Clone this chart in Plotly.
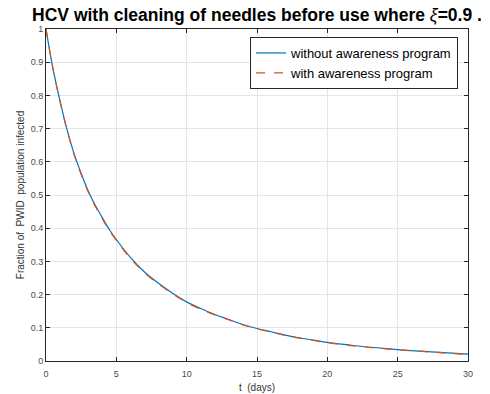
import plotly.graph_objects as go

t_days = [0, 0.5, 1, 1.5, 2, 2.5, 3, 3.5, 4, 4.5, 5, 6, 7, 8, 9, 10, 11, 12, 13, 14, 15,
          16, 17, 18, 19, 20, 22, 24, 26, 28, 30]
without_awareness = [1.0, 0.880, 0.783, 0.696, 0.624, 0.565, 0.512, 0.469, 0.432, 0.396, 0.366,
                     0.312, 0.268, 0.234, 0.204, 0.178, 0.158, 0.140, 0.125, 0.110, 0.098,
                     0.088, 0.078, 0.070, 0.063, 0.056, 0.046, 0.038, 0.031, 0.026, 0.021]
with_awareness = [1.0, 0.879, 0.781, 0.694, 0.621, 0.562, 0.509, 0.466, 0.429, 0.393, 0.363,
                  0.309, 0.266, 0.232, 0.202, 0.176, 0.156, 0.139, 0.124, 0.109, 0.097,
                  0.087, 0.077, 0.069, 0.062, 0.055, 0.045, 0.037, 0.031, 0.025, 0.020]
x_ticks = [0, 5, 10, 15, 20, 25, 30]
y_ticks = [0, 0.1, 0.2, 0.3, 0.4, 0.5, 0.6, 0.7, 0.8, 0.9, 1]
y_tick_labels = ["0", "0.1", "0.2", "0.3", "0.4", "0.5", "0.6", "0.7", "0.8", "0.9", "1"]

W, H = 490, 394
L, R, T, B = 46, 468, 29, 361

fig = go.Figure()
fig.add_trace(go.Scatter(x=t_days, y=without_awareness, mode="lines", name="without awareness program",
                         line=dict(color="#0072BD", width=1.2, shape="spline")))
fig.add_trace(go.Scatter(x=t_days, y=with_awareness, mode="lines", name="with awareness program",
                         line=dict(color="#D95319", width=1.2, dash="dash", shape="spline")))

axis_common = dict(showline=True, linecolor="#262626", linewidth=1, mirror="ticks",
                   ticks="inside", ticklen=4, tickcolor="#262626", showgrid=True,
                   gridcolor="#e5e5e5", gridwidth=1, zeroline=False, automargin=False,
                   tickfont=dict(family="Liberation Sans, Arial", size=9, color="#4a4a4a"))

fig.update_xaxes(range=[0, 30], tickvals=x_ticks, ticktext=[str(v) for v in x_ticks],
                 ticklabelstandoff=4,
                 title=dict(text="t  (days)", font=dict(family="Liberation Sans, Arial", size=10, color="#333"),
                            standoff=6), **axis_common)
fig.update_yaxes(range=[0, 1], tickvals=y_ticks, ticktext=y_tick_labels,
                 title=dict(text="Fraction of  PWID  population infected",
                            font=dict(family="Liberation Sans, Arial", size=10, color="#333"), standoff=4),
                 **axis_common)

fig.update_layout(
    width=W, height=H,
    margin=dict(l=L, r=W - R, t=T, b=H - B, autoexpand=False),
    paper_bgcolor="white", plot_bgcolor="white",
    title=dict(text="<b>HCV with cleaning of needles before use where </b><i>ξ</i><b>=0.9 .</b>",
               x=(L + R) / 2 / W, xanchor="center", y=1 - 14.5 / H, yanchor="middle",
               yref="container",
               font=dict(family="Liberation Sans, Arial", size=17.5, color="black")),
    legend=dict(x=(458 - L) / (R - L), y=(B - 37) / (B - T), xanchor="right", yanchor="top",
                bordercolor="#262626", borderwidth=1, bgcolor="white",
                font=dict(family="Liberation Sans, Arial", size=13, color="black"),
                tracegroupgap=0, itemwidth=30),
    showlegend=True,
)

fig.write_html("out.html")
